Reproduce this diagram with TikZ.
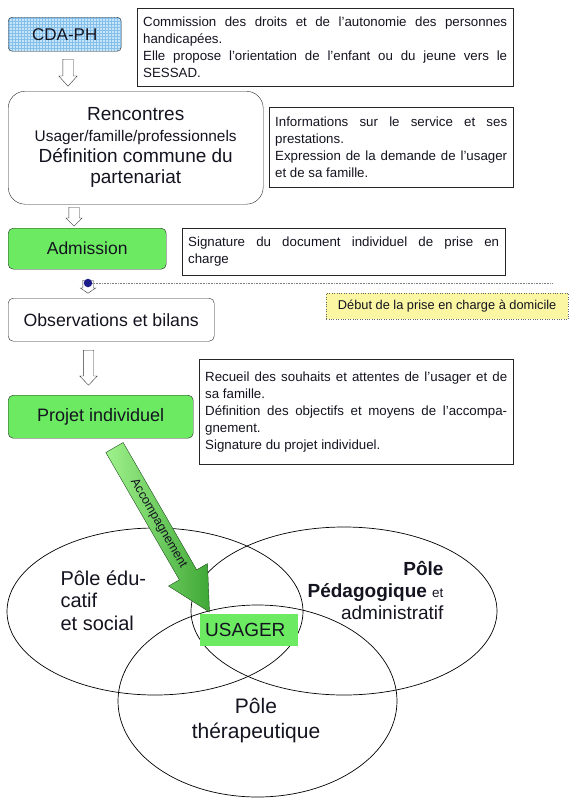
\documentclass[tikz,border=0pt]{standalone}
\usepackage{fontspec}
\setmainfont{Liberation Sans}
\usetikzlibrary{shapes.arrows,patterns}

\definecolor{cdafill}{HTML}{C4E4F8}
\definecolor{cdagrid}{HTML}{86C0EA}
\definecolor{stepgreen}{HTML}{6CEB62}
\definecolor{notice}{HTML}{FAF6A2}
\definecolor{dotblue}{HTML}{1C1C8A}
\definecolor{acclight}{HTML}{A0F28C}
\definecolor{accdark}{HTML}{3FA836}
\definecolor{accline}{HTML}{1E4E1E}
\definecolor{txt}{HTML}{141420}

\newcommand\fsize[2]{\fontsize{#1}{#2}\selectfont}

\tikzset{
  every node/.style={text=txt},
  stepbox/.style={draw=black!85, rounded corners=5pt, anchor=north west,
                  inner sep=0pt, align=center},
  infobox/.style={draw=black!85, anchor=north west, align=justify,
                  inner xsep=6pt, inner ysep=4pt, font=\fsize{13.3}{17}},
  blockarrow/.style={single arrow, draw=black!80, fill=white, inner xsep=0pt,
                     inner ysep=5pt, rotate=-90, anchor=tail},
  pole/.style={draw=black, line width=0.7pt},
  accarrow/.style={draw=accline, left color=acclight, right color=accdark}
}

\begin{document}
\begin{tikzpicture}[x=1pt,y=-1pt]
  \useasboundingbox (0,0) rectangle (575,801);

  % les étapes du parcours
  \node[stepbox, rounded corners=4pt, preaction={fill=cdafill}, pattern=grid,
        pattern color=cdagrid, minimum width=113, minimum height=34,
        font=\fsize{17}{20}] (cda) at (8,17) {CDA-PH};
  \node[stepbox, rounded corners=17pt, minimum width=255, minimum height=113,
        font=\fsize{19}{21}] (renc) at (8,91)
        {Rencontres\\{\fsize{15.4}{21}Usager/famille/professionnels}\\Définition commune du\\partenariat};
  \node[stepbox, fill=stepgreen, minimum width=158, minimum height=41,
        font=\fsize{17.5}{20}] (adm) at (8,228) {Admission};
  \node[stepbox, minimum width=206, minimum height=43,
        font=\fsize{17.7}{20}] (obs) at (8,298) {Observations et bilans};
  \node[stepbox, fill=stepgreen, minimum width=185, minimum height=43,
        font=\fsize{18}{20}] (proj) at (8,395) {Projet individuel};

  % les explications
  \node[infobox, text width=364, minimum height=78] (info1) at (137,8)
        {Commission des droits et de l’autonomie des personnes\linebreak handicapées.\\
         Elle propose l’orientation de l’enfant ou du jeune vers le\linebreak SESSAD.};
  \node[infobox, text width=232, minimum height=80] (info2) at (269,107)
        {Informations sur le service et ses\linebreak prestations.\\
         Expression de la demande de l’usager\linebreak et de sa famille.};
  \node[infobox, text width=311, minimum height=47] (info3) at (182,228)
        {Signature du document individuel de prise en\linebreak charge};
  \node[infobox, text width=302, minimum height=105] (info4) at (199,359)
        {Recueil des souhaits et attentes de l’usager et de\linebreak sa famille.\\
         Définition des objectifs et moyens de l’accompa-\linebreak gnement.\\
         Signature du projet individuel.};
  \node[draw=black!60, dotted, fill=notice, anchor=north west, minimum width=242,
        minimum height=26, inner sep=0pt, font=\fsize{12.8}{15}] (start) at (326,293)
        {Début de la prise en charge à domicile};

  % flèches creuses
  \node[blockarrow, minimum height=27, single arrow head extend=4,
        single arrow tip angle=84] (arr1) at (68,59) {};
  \node[blockarrow, minimum height=19, single arrow head extend=3,
        single arrow tip angle=90] (arr2) at (74,207) {};
  \node[blockarrow, minimum height=13, single arrow head extend=2.5,
        single arrow tip angle=112] (arr3) at (88,280) {};
  \node[blockarrow, minimum height=35, single arrow head extend=3.5,
        single arrow tip angle=87] (arr4) at (88.5,350) {};
  \node[circle, fill=dotblue, inner sep=0pt, minimum size=8.5] (dot) at (88,283) {};
  \coordinate (dotend) at (553,283);
  \draw[black!50, line width=0.5pt, dash pattern=on 0.8pt off 0.8pt] (dot.east) -- (dotend);

  % les trois pôles
  \draw[pole] (155,611.5) ellipse [x radius=148, y radius=83.5];
  \draw[pole] (344,611) ellipse [x radius=153, y radius=84];
  \draw[pole] (257.5,701) ellipse [x radius=139.5, y radius=96];
  \node[anchor=base west, align=left, font=\fsize{20}{22.5}] (educ) at (57,630)
        {Pôle édu-\\catif\\et social};
  \node[anchor=base east, align=right, font=\fsize{19}{22}] (peda) at (447,619)
        {\textbf{Pôle}\\\textbf{Pédagogique} {\fsize{13.5}{22}et}\\administratif};
  \node[anchor=base, align=center, font=\fsize{21}{25}] (thera) at (256,738)
        {Pôle\\thérapeutique};
  \node[fill=stepgreen, anchor=north west, text width=88, inner xsep=5pt,
        inner ysep=0pt, minimum height=32, align=left, font=\fsize{19}{22}]
        (usager) at (200,614) {USAGER};

  % grande flèche vers l'usager
  \begin{scope}[shift={(114.5,447.5)}, rotate=-60]
    \shadedraw[accarrow] (0,-10) -- (147,-10) -- (147,-22.5) -- (190,0)
        -- (147,22.5) -- (147,10) -- (0,10) -- cycle;
    \node[rotate=-60, font=\fsize{12.5}{14}] (acc) at (88,0) {Accompagnement};
  \end{scope}
\end{tikzpicture}
\end{document}
